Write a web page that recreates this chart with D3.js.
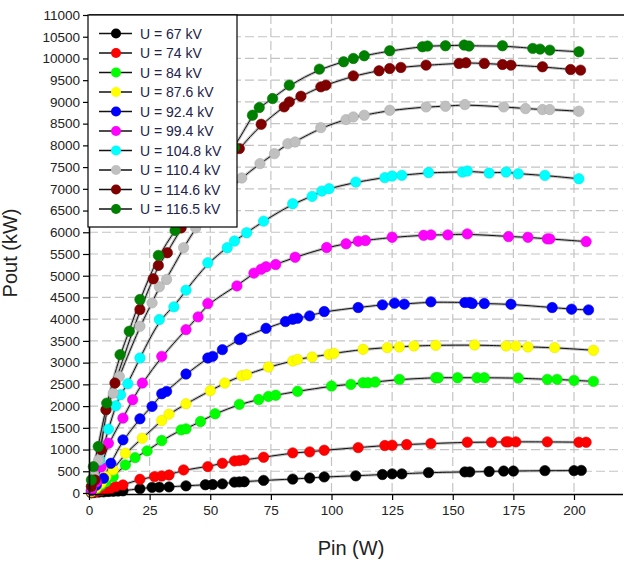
<!DOCTYPE html>
<html>
<head>
<meta charset="utf-8">
<script src="https://cdn.jsdelivr.net/npm/d3@7"></script>
<style>
  html, body { margin: 0; padding: 0; background: #fff; }
  svg { display: block; font-family: 'Liberation Sans', Arial, sans-serif; }
</style>
</head>
<body>
<div id="chart"></div>
<script>
// ── Data: [Pin (W), Pout (kW)] per supply voltage ──
const U67 = [[1,5],[2,10],[4,20],[6,25],[8,35],[10,40],[12,45],[14,50],[21,100],[26,130],[29,135],[33,140],[40,165],[48,190],[51,195],[55,210],[60,250],[62,255],[64,260],[72,290],[84,320],[91,345],[97,370],[110,395],[121,425],[125,440],[129,440],[140,470],[155,485],[157,485],[165,495],[171,505],[175,505],[188,515],[200,515],[203,520]];
const U74 = [[1,10],[3,30],[5,55],[7,80],[9,108],[11,146],[14,185],[21,315],[27,377],[30,392],[33,415],[39,531],[49,608],[55,684],[60,738],[62,746],[64,761],[72,823],[84,923],[91,946],[97,984],[111,1045],[122,1092],[125,1100],[131,1115],[141,1138],[156,1169],[166,1169],[172,1177],[173,1177],[176,1177],[189,1177],[202,1169],[205,1169]];
const U84 = [[1,30],[3,90],[5,180],[7,260],[10,377],[15,646],[19,815],[24,969],[30,1207],[38,1453],[40,1476],[46,1646],[52,1823],[62,2040],[70,2150],[74,2222],[77,2250],[86,2340],[100,2461],[108,2499],[113,2538],[115,2538],[118,2553],[128,2615],[143,2653],[144,2653],[152,2653],[160,2653],[163,2653],[177,2645],[189,2615],[193,2615],[200,2592],[208,2569]];
const U87_6 = [[1,40],[3,120],[5,223],[7,377],[10,531],[15,915],[22,1261],[30,1669],[33,1815],[40,2053],[50,2353],[56,2530],[63,2699],[65,2722],[74,2900],[84,3038],[86,3076],[92,3130],[99,3191],[101,3214],[113,3307],[123,3345],[128,3361],[134,3384],[143,3399],[159,3407],[172,3384],[176,3384],[181,3361],[192,3345],[208,3284]];
const U92_4 = [[1,60],[3,180],[6,338],[9,684],[14,1223],[21,1707],[26,1992],[30,2284],[32,2338],[40,2738],[49,3107],[51,3145],[55,3299],[62,3530],[63,3568],[73,3790],[81,3945],[84,3999],[86,4022],[91,4076],[97,4176],[111,4268],[121,4330],[126,4368],[130,4345],[141,4399],[155,4383],[157,4383],[158,4360],[163,4360],[174,4345],[191,4268],[199,4230],[206,4214]];
const U99_4 = [[1,70],[3,250],[5,600],[8,1146],[14,1723],[18,2146],[22,2530],[30,3145],[40,3760],[45,4053],[49,4360],[61,4765],[68,5060],[71,5150],[73,5206],[77,5258],[85,5426],[98,5650],[106,5735],[111,5795],[114,5811],[125,5886],[138,5930],[141,5940],[148,5940],[156,5963],[173,5901],[181,5886],[189,5848],[190,5848],[205,5786]];
const U104_8 = [[1,150],[2,350],[4.5,761],[8,1469],[11,2007],[13,2261],[16,2515],[21,3107],[29,3991],[35,4283],[40,4668],[49,5298],[57,5645],[60,5798],[65,5990],[72,6256],[84,6657],[92,6826],[96,6948],[99,7003],[110,7155],[122,7257],[125,7294],[129,7310],[140,7375],[154,7386],[156,7409],[165,7363],[172,7386],[177,7347],[188,7309],[202,7232]];
const U110_4 = [[1,150],[2,400],[4,761],[7,1915],[10,2299],[12.5,2684],[21,3837],[26,4375],[29,4745],[32,4914],[39,5645],[44,6100],[50,6500],[57,6950],[63,7250],[70.5,7580],[76.5,7810],[82,8039],[85,8078],[95.6,8408],[106,8593],[109,8654],[113.5,8693],[124,8808],[139,8885],[147,8900],[155,8939],[171,8885],[180,8847],[187,8824],[190,8824],[202,8785]];
const U114_6 = [[1,150],[2.5,300],[5,1000],[7,1915],[10.7,2530],[21,4222],[26.5,4929],[28.6,5237],[32.3,5529],[38,6100],[45,6650],[52,7200],[57,7550],[62,7926],[71,8485],[80.5,8885],[82.6,9000],[87.4,9131],[95.6,9347],[97.7,9385],[109,9600],[119.6,9716],[124,9769],[128.6,9793],[139,9846],[152.6,9885],[155.4,9900],[163,9885],[170.5,9862],[174,9846],[187,9808],[198.6,9746],[202.7,9731]];
const U116_5 = [[1,300],[1.8,607],[3.8,1069],[7.3,2069],[12.8,3184],[16.6,3722],[21,4453],[28.6,5468],[35.5,6042],[44,6700],[52,7350],[60,7950],[67.4,8693],[70.2,8870],[75.7,9077],[82.6,9385],[95,9754],[105,9923],[109,10000],[113.5,10062],[124,10177],[137.5,10269],[139.6,10285],[147,10292],[154.7,10308],[156.7,10285],[170.5,10292],[183,10231],[186,10215],[190,10192],[202,10154]];

const SERIES = [U67, U74, U84, U87_6, U92_4, U99_4, U104_8, U110_4, U114_6, U116_5];
const LABELS = ['U = 67 kV', 'U = 74 kV', 'U = 84 kV', 'U = 87.6 kV', 'U = 92.4 kV',
                'U = 99.4 kV', 'U = 104.8 kV', 'U = 110.4 kV', 'U = 114.6 kV', 'U = 116.5 kV'];
const COLORS = ['#000000', '#ff0000', '#00ff00', '#ffff00', '#0000ff',
                '#ff00ff', '#00ffff', '#c0c0c0', '#800000', '#008000'];

const X_TICKS = d3.range(0, 201, 25);
const Y_TICKS = d3.range(0, 11001, 500);

// ── Layout ──
const width = 624, height = 562;
const margin = { top: 15, right: 1.5, bottom: 69, left: 89 };
const innerW = width - margin.left - margin.right;
const innerH = height - margin.top - margin.bottom;

const svg = d3.select('#chart').append('svg')
    .attr('width', width)
    .attr('height', height);

const g = svg.append('g').attr('transform', `translate(${margin.left},${margin.top})`);

const x = d3.scaleLinear().domain([0, 220]).range([0, innerW]);
const y = d3.scaleLinear().domain([0, 11000]).range([innerH, 0]);

// Grid
g.append('g').selectAll('line')
    .data(X_TICKS.filter(d => d > 0))
    .join('line')
    .attr('x1', d => x(d)).attr('x2', d => x(d))
    .attr('y1', 0).attr('y2', innerH)
    .attr('stroke', '#c4c4c4').attr('stroke-width', 1.2)
    .attr('stroke-dasharray', '9,4');

g.append('g').selectAll('line')
    .data(Y_TICKS.filter(d => d > 0 && d < 11000))
    .join('line')
    .attr('x1', 0).attr('x2', innerW)
    .attr('y1', d => y(d)).attr('y2', d => y(d))
    .attr('stroke', '#c4c4c4').attr('stroke-width', 1.2)
    .attr('stroke-dasharray', '9,4');

// Curves (halo + thin black line)
const line = d3.line()
    .x(d => x(d[0]))
    .y(d => y(d[1]))
    .curve(d3.curveBasis);

SERIES.forEach(s => {
    const pts = [[0, 0]].concat(s.slice().sort((a, b) => a[0] - b[0]));
    g.append('path').datum(pts)
        .attr('d', line)
        .attr('fill', 'none')
        .attr('stroke', '#9a9a9a').attr('stroke-opacity', 0.6)
        .attr('stroke-width', 3);
    g.append('path').datum(pts)
        .attr('d', line)
        .attr('fill', 'none')
        .attr('stroke', '#111').attr('stroke-width', 1);
});

// Markers
SERIES.forEach((s, i) => {
    g.append('g').selectAll('circle')
        .data(s)
        .join('circle')
        .attr('cx', d => x(d[0]))
        .attr('cy', d => y(d[1]))
        .attr('r', 5.2)
        .attr('fill', COLORS[i])
        .attr('stroke', d3.color(COLORS[i]).darker(0.3))
        .attr('stroke-width', 0.6);
});

// Axes
const axisFont = g => g.selectAll('text')
    .attr('font-family', "'Liberation Sans', Arial, sans-serif")
    .attr('font-size', '13.5px')
    .attr('fill', '#222');

g.append('g')
    .attr('transform', `translate(0,${innerH + 1})`)
    .call(d3.axisBottom(x).tickValues(X_TICKS).tickFormat(d3.format('d'))
        .tickSize(6).tickPadding(5).tickSizeOuter(0))
    .call(a => a.select('.domain').attr('stroke', '#000').attr('stroke-width', 1.6))
    .call(a => a.selectAll('.tick line').attr('stroke', '#000').attr('stroke-width', 1.2))
    .call(axisFont);

g.append('g')
    .call(d3.axisLeft(y).tickValues(Y_TICKS).tickFormat(d3.format('d'))
        .tickSize(6).tickPadding(3).tickSizeOuter(0))
    .call(a => a.select('.domain').attr('stroke', '#000').attr('stroke-width', 1.6))
    .call(a => a.selectAll('.tick line').attr('stroke', '#000').attr('stroke-width', 1.2))
    .call(axisFont);

// Top frame line
g.append('line')
    .attr('x1', 0).attr('x2', innerW + 2)
    .attr('y1', 0).attr('y2', 0)
    .attr('stroke', '#000').attr('stroke-width', 1.6);

// Axis titles
svg.append('text')
    .attr('transform', `translate(17,253) rotate(-90)`)
    .attr('text-anchor', 'middle')
    .attr('font-size', '20px')
    .attr('fill', '#222')
    .text('Pout (kW)');

svg.append('text')
    .attr('x', 351)
    .attr('y', 555)
    .attr('text-anchor', 'middle')
    .attr('font-size', '20px')
    .attr('fill', '#222')
    .text('Pin (W)');

// Legend
const legend = svg.append('g').attr('transform', 'translate(88,15)');
legend.append('rect')
    .attr('width', 149).attr('height', 212)
    .attr('fill', '#fff')
    .attr('stroke', '#000').attr('stroke-width', 1.2);

LABELS.forEach((name, i) => {
    const row = legend.append('g').attr('transform', `translate(0,${18.5 + i * 19.5})`);
    row.append('line')
        .attr('x1', 11).attr('x2', 44)
        .attr('stroke', '#111').attr('stroke-width', 1.5);
    row.append('circle')
        .attr('cx', 28).attr('r', 5)
        .attr('fill', COLORS[i]);
    row.append('text')
        .attr('x', 52).attr('dy', '0.36em')
        .attr('font-size', '14px')
        .attr('fill', '#22224a')
        .text(name);
});
</script>
</body>
</html>
